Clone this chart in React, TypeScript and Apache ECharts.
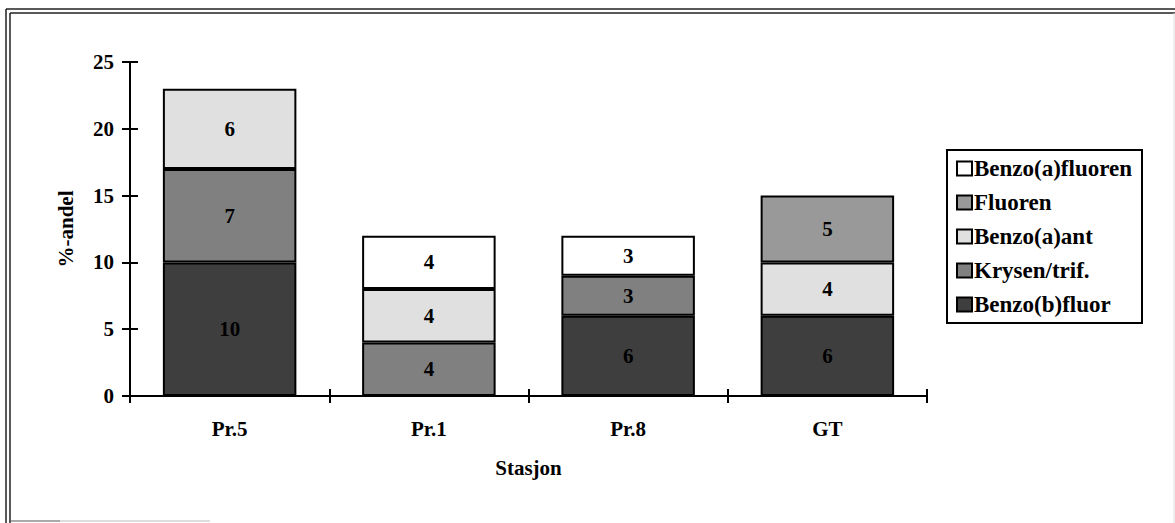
import React, { useEffect, useRef } from "react";
import * as echarts from "echarts";

const categories = ["Pr.5", "Pr.1", "Pr.8", "GT"];
const benzoBFluor = [10, 0, 6, 6];
const krysenTrif = [7, 4, 3, 0];
const benzoAAnt = [6, 4, 0, 4];
const fluoren = [0, 0, 0, 5];
const benzoAFluoren = [0, 4, 3, 0];
const yTicks = [0, 5, 10, 15, 20, 25];

const FONT = "'Liberation Serif', 'Times New Roman', serif";

export default function App() {
  const ref = useRef<HTMLDivElement>(null);
  useEffect(() => {
    if (!ref.current) return;
    const chart = echarts.init(ref.current, undefined, { renderer: "svg" });
    const mk = (name: string, data: number[], color: string) => ({
      name,
      type: "bar",
      stack: "total",
      data: data.map((v) => (v === 0 ? null : v)),
      barCategoryGap: "33%",
      itemStyle: { color, borderColor: "#000", borderWidth: 2 },
      label: {
        show: true,
        position: "inside",
        color: "#000",
        fontFamily: FONT,
        fontWeight: "bold",
        fontSize: 21,
      },
    });
    const textStyle = { fontFamily: FONT, fontWeight: "bold", fontSize: 21, color: "#000" };
    chart.setOption({
      animation: false,
      backgroundColor: "#fff",
      grid: { left: 130, right: 248, top: 62, bottom: 127 },
      legend: {
        orient: "vertical",
        left: 947,
        top: 150,
        padding: [7, 10, 7, 9],
        itemGap: 11,
        itemWidth: 15,
        itemHeight: 14,
        borderColor: "#000",
        borderWidth: 2,
        icon: "rect",
        data: ["Benzo(a)fluoren", "Fluoren", "Benzo(a)ant", "Krysen/trif.", "Benzo(b)fluor"],
        textStyle: { fontFamily: FONT, fontWeight: "bold", fontSize: 23, color: "#000", padding: [0, 0, 0, -3] },
      },
      xAxis: [
        {
          type: "category",
          data: categories,
          name: "Stasjon",
          nameLocation: "middle",
          nameGap: 61,
          nameTextStyle: textStyle,
          axisLine: { lineStyle: { color: "#000", width: 2 } },
          axisTick: { show: true, length: 7, lineStyle: { color: "#000", width: 2 } },
          axisLabel: { ...textStyle, margin: 22 },
        },
        {
          type: "category",
          data: categories,
          position: "bottom",
          axisLine: { show: false },
          axisTick: { show: true, inside: true, length: 7, lineStyle: { color: "#000", width: 2 } },
          axisLabel: { show: false },
        },
      ],
      yAxis: [
        {
          type: "value",
          min: 0,
          max: 25,
          interval: 5,
          name: "%-andel",
          nameLocation: "middle",
          nameGap: 54,
          nameTextStyle: textStyle,
          splitLine: { show: false },
          axisLine: { show: true, lineStyle: { color: "#000", width: 2 } },
          axisTick: { show: true, length: 8, lineStyle: { color: "#000", width: 2 } },
          axisLabel: {
            ...textStyle,
            margin: 16,
            formatter: (v: number) => (yTicks.includes(v) ? String(v) : ""),
          },
        },
        {
          type: "value",
          min: 0,
          max: 25,
          interval: 5,
          position: "left",
          splitLine: { show: false },
          axisLine: { show: false },
          axisTick: { show: true, inside: true, length: 8, lineStyle: { color: "#000", width: 2 } },
          axisLabel: { show: false },
        },
      ],
      series: [
        mk("Benzo(b)fluor", benzoBFluor, "#3e3e3e"),
        mk("Krysen/trif.", krysenTrif, "#808080"),
        mk("Benzo(a)ant", benzoAAnt, "#e0e0e0"),
        mk("Fluoren", fluoren, "#999999"),
        mk("Benzo(a)fluoren", benzoAFluoren, "#ffffff"),
      ],
      graphic: [
        { type: "line", shape: { x1: 6, y1: 9, x2: 6, y2: 523 }, style: { stroke: "#222", lineWidth: 1.5 } },
        { type: "line", shape: { x1: 10, y1: 13, x2: 10, y2: 523 }, style: { stroke: "#222", lineWidth: 1.5 } },
        { type: "line", shape: { x1: 6, y1: 9, x2: 1175, y2: 9 }, style: { stroke: "#222", lineWidth: 1.5 } },
        { type: "line", shape: { x1: 10, y1: 13, x2: 1175, y2: 13 }, style: { stroke: "#222", lineWidth: 1.5 } },
        { type: "line", shape: { x1: 10, y1: 521, x2: 60, y2: 521 }, style: { stroke: "#555", lineWidth: 1 } },
        { type: "line", shape: { x1: 60, y1: 521, x2: 210, y2: 521 }, style: { stroke: "#bbb", lineWidth: 1 } },
        { type: "line", shape: { x1: 1174, y1: 13, x2: 1174, y2: 523 }, style: { stroke: "#ddd", lineWidth: 1 } },
      ],
    });
    return () => chart.dispose();
  }, []);
  return (
    <div
      ref={ref}
      style={{ position: "fixed", left: 0, top: 0, width: 1175, height: 523 }}
    />
  );
}
